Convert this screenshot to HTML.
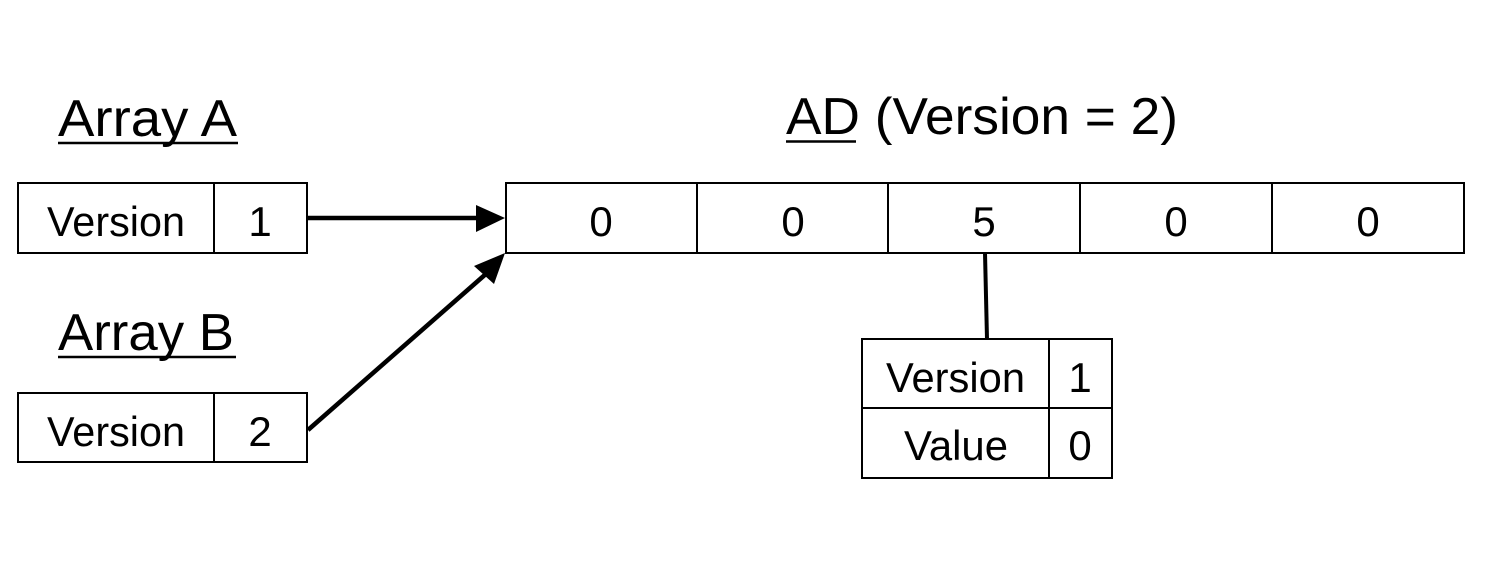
<!DOCTYPE html>
<html><head><meta charset="utf-8"><style>
html,body{margin:0;padding:0;background:#fff;}
svg{display:block;}
text{font-family:"Liberation Sans",sans-serif;fill:#000;}
</style></head><body>
<svg width="1494" height="564" viewBox="0 0 1494 564" xmlns="http://www.w3.org/2000/svg">
<g fill="none" stroke="#000" stroke-width="2">
<rect x="18" y="183" width="289" height="70"/>
<line x1="214" y1="183" x2="214" y2="253"/>
<rect x="18" y="393" width="289" height="69"/>
<line x1="214" y1="393" x2="214" y2="462"/>
<rect x="506" y="183" width="958" height="70"/>
<line x1="697" y1="183" x2="697" y2="253"/>
<line x1="888" y1="183" x2="888" y2="253"/>
<line x1="1080" y1="183" x2="1080" y2="253"/>
<line x1="1272" y1="183" x2="1272" y2="253"/>
<rect x="862" y="339" width="250" height="139"/>
<line x1="862" y1="408" x2="1112" y2="408"/>
<line x1="1049" y1="339" x2="1049" y2="478"/>
</g>
<g stroke="#000" stroke-width="4.5" fill="none">
<line x1="308" y1="218" x2="478" y2="218"/>
<line x1="308" y1="430" x2="487" y2="273"/>
</g>
<line x1="985" y1="253" x2="987" y2="339" stroke="#000" stroke-width="4"/>
<polygon points="476,205 505,218 476,232" fill="#000"/>
<polygon points="505,253 474,266 494,284" fill="#000"/>
<g font-size="52">
<text x="58" y="136" textLength="179" lengthAdjust="spacingAndGlyphs">Array A</text>
<text x="58" y="350" textLength="176" lengthAdjust="spacingAndGlyphs">Array B</text>
<text x="786" y="134" textLength="392" lengthAdjust="spacingAndGlyphs">AD (Version = 2)</text>
</g>
<g stroke="#000" stroke-width="2.5">
<line x1="58" y1="143" x2="238" y2="143"/>
<line x1="58" y1="357" x2="236" y2="357"/>
<line x1="786" y1="141.5" x2="856" y2="141.5"/>
</g>
<g font-size="42">
<text x="47" y="236" textLength="138" lengthAdjust="spacingAndGlyphs">Version</text>
<text x="260" y="236" text-anchor="middle">1</text>
<text x="47" y="446" textLength="138" lengthAdjust="spacingAndGlyphs">Version</text>
<text x="260" y="446" text-anchor="middle">2</text>
<text x="601" y="236" text-anchor="middle">0</text>
<text x="793" y="236" text-anchor="middle">0</text>
<text x="984" y="236" text-anchor="middle">5</text>
<text x="1176" y="236" text-anchor="middle">0</text>
<text x="1368" y="236" text-anchor="middle">0</text>
<text x="886" y="392" textLength="139" lengthAdjust="spacingAndGlyphs">Version</text>
<text x="1080" y="392" text-anchor="middle">1</text>
<text x="904" y="460" textLength="104" lengthAdjust="spacingAndGlyphs">Value</text>
<text x="1080" y="460" text-anchor="middle">0</text>
</g>
</svg>
</body></html>
